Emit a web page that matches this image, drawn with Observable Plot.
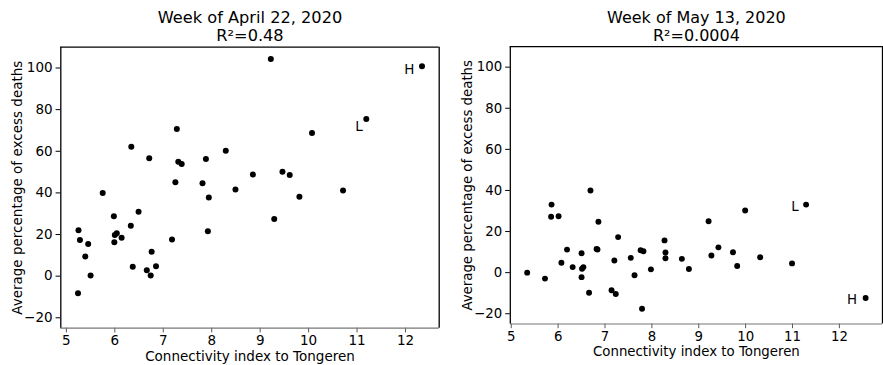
<!DOCTYPE html>
<html><head><meta charset="utf-8">
<script src="https://cdn.jsdelivr.net/npm/d3@7"></script>
<script src="https://cdn.jsdelivr.net/npm/@observablehq/plot@0.6"></script>
<style>
html,body{margin:0;padding:0;background:#fff;overflow:hidden;}
#wrap{position:relative;width:883px;height:365px;overflow:hidden;background:#fff;}
#left,#right{position:absolute;top:0;}
#left{left:0;} #right{left:441px;}
</style></head>
<body><div id="wrap"><div id="left"></div><div id="right"></div></div>
<script>
// Week of April 22, 2020
const aprilX = [9.22,12.34,11.19,7.28,10.07,6.34,6.71,7.31,7.38,7.88,8.29,8.85,9.46,9.61,7.25,7.81,5.75,7.94,8.49,9.81,10.71,9.29,7.92,7.18,5.98,6.49,6.33,6.00,6.04,6.14,5.99,5.25,5.28,5.45,5.39,5.50,5.24,6.76,6.37,6.66,6.74,6.85];
const aprilY = [104.3,100.8,75.5,70.7,68.8,62.2,56.6,55.0,53.9,56.3,60.3,48.8,50.2,48.6,45.1,44.6,40.0,37.8,41.6,38.2,41.1,27.5,21.6,17.6,28.8,30.9,24.2,19.8,20.6,18.4,16.3,22.1,17.4,15.4,9.4,0.3,-8.2,11.7,4.5,2.9,0.3,4.8];
// Week of May 13, 2020
const mayX = [5.34,5.72,5.86,5.85,6.01,6.07,6.19,6.31,6.50,6.51,6.54,6.50,6.66,6.69,6.86,6.82,6.84,7.28,7.20,7.14,7.23,7.55,7.63,7.76,7.82,7.79,7.98,8.27,8.29,8.29,8.64,8.79,9.21,9.27,9.42,9.73,9.82,9.99,10.31,10.99,11.29,12.56];
const mayY = [0.0,-2.9,33.1,27.2,27.4,4.8,11.2,2.7,9.4,1.9,2.7,-2.2,-9.8,40.0,24.8,11.5,11.3,17.3,5.9,-8.6,-10.4,7.2,-1.3,10.9,10.4,-17.6,1.6,15.7,9.8,7.0,6.7,1.8,25.0,8.3,12.3,9.9,3.2,30.2,7.5,4.5,33.1,-12.3];
// annotations
const aprilLabels = ["H","L"];
const aprilLabelX = [12.08,11.04];
const aprilLabelY = [99.2,71.8];
const mayLabels = ["L","H"];
const mayLabelX = [11.05,12.27];
const mayLabelY = [32.0,-13.0];

const titles = ["Week of April 22, 2020","Week of May 13, 2020"];
const subtitles = ["R²=0.48","R²=0.0004"];
const xTicks = [5,6,7,8,9,10,11,12];
const yTicks = [-20,0,20,40,60,80,100];
const xLabel = "Connectivity index to Tongeren";
const yLabel = "Average percentage of excess deaths";

const fmt = d => d < 0 ? "\u2212" + Math.abs(d) : String(d);

function panel({xs, ys, lx, ly, lt, title, subtitle, xDomain, width, marginLeft, marginRight}) {
  const pts = xs.map((x, i) => ({x, y: ys[i]}));
  const labs = lt.map((t, i) => ({t, x: lx[i], y: ly[i]}));
  const yDomain = [-25, 110];
  return Plot.plot({
    width, height: 365,
    marginLeft, marginRight, marginTop: 46.7, marginBottom: 37.3,
    style: {fontFamily: "'DejaVu Sans', sans-serif", fontSize: "13.5px", color: "black", background: "white", overflow: "visible"},
    x: {domain: xDomain},
    y: {domain: yDomain},
    marks: [
      Plot.axisX({ticks: xTicks, tickFormat: fmt, tickSize: 4.7, tickPadding: 2.5, label: null, fontSize: 13.5, stroke: "#555"}),
      Plot.axisY({ticks: yTicks, tickFormat: fmt, tickSize: 4.7, tickPadding: 3.5, label: null, fontSize: 13.5}),
      Plot.ruleY([yDomain[0]], {stroke: "#777", strokeWidth: 1.2}),
      Plot.ruleY([yDomain[1]], {stroke: "black", strokeWidth: 1.3}),
      Plot.ruleX([xDomain[0], xDomain[1]], {stroke: "black", strokeWidth: 1.3}),
      Plot.dot(pts, {x: "x", y: "y", r: 3, fill: "black", stroke: null}),
      Plot.text(labs, {x: "x", y: "y", text: "t", fontSize: 13.5, fill: "black", textAnchor: "middle", lineAnchor: "middle"}),
      Plot.text([title], {frameAnchor: "top", text: d => d, textAnchor: "middle", lineAnchor: "bottom", dy: -23.8, fontSize: 16.2, fill: "black"}),
      Plot.text([subtitle], {frameAnchor: "top", text: d => d, textAnchor: "middle", lineAnchor: "bottom", dy: -6, fontSize: 16.2, fill: "black"}),
      Plot.text([xLabel], {frameAnchor: "bottom", text: d => d, textAnchor: "middle", lineAnchor: "bottom", dy: 32.3, fontSize: 13.5, fill: "black"}),
      Plot.text([yLabel], {frameAnchor: "left", text: d => d, textAnchor: "middle", lineAnchor: "bottom", dx: -38.5, rotate: -90, fontSize: 13.5, fill: "black"})
    ]
  });
}

document.getElementById("left").appendChild(panel({
  xs: aprilX, ys: aprilY, lx: aprilLabelX, ly: aprilLabelY, lt: aprilLabels,
  title: titles[0], subtitle: subtitles[0],
  xDomain: [4.885, 12.695], width: 441, marginLeft: 60.3, marginRight: 2.3
}));
document.getElementById("right").appendChild(panel({
  xs: mayX, ys: mayY, lx: mayLabelX, ly: mayLabelY, lt: mayLabels,
  title: titles[1], subtitle: subtitles[1],
  xDomain: [4.98, 12.92], width: 447.7, marginLeft: 69.7, marginRight: 1
}));
</script>
</body></html>
